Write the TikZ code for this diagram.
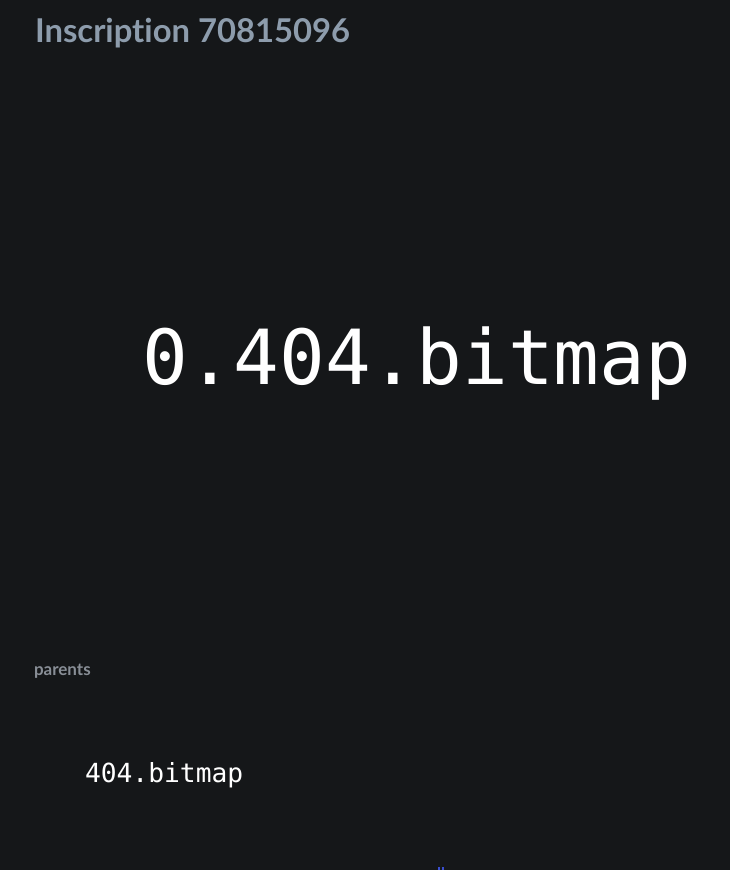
\documentclass[tikz,border=0pt]{standalone}
\usepackage{fontspec}
\setmainfont{Lato}[Ligatures=NoCommon]
\newfontfamily\monofnt{DejaVu Sans Mono}
\definecolor{bgc}{HTML}{151719}
\definecolor{titlec}{HTML}{8D9CAC}
\definecolor{labelc}{HTML}{888E96}
\definecolor{markc}{HTML}{3A4FD0}
\begin{document}
\begin{tikzpicture}[x=1pt,y=1pt,
  txt/.style={anchor=base west,inner sep=0pt,outer sep=0pt}]
\fill[bgc] (0,0) rectangle (730,-870);
\useasboundingbox (0,0) rectangle (730,-870);
\node[txt,text=titlec,font=\fontsize{32.8}{36}\selectfont\bfseries] (title) at (35,-42) {Inscription 70815096};
\node[txt,text=white,font=\monofnt\fontsize{76}{80}\selectfont] (big) at (142,-384) {0.404.bitmap};
\node[txt,text=labelc,font=\fontsize{17}{19}\selectfont\bfseries] (parents) at (34,-675) {parents};
\node[txt,text=white,font=\monofnt\fontsize{26.3}{30}\selectfont] (parent) at (85,-782) {404.bitmap};
\fill[markc] (438,-867) rectangle (440,-870);
\fill[markc] (442,-867) rectangle (444,-870);
\end{tikzpicture}
\end{document}
